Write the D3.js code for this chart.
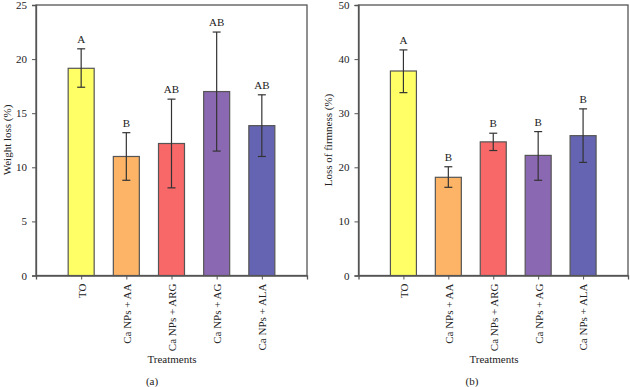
<!DOCTYPE html>
<html><head><meta charset="utf-8">
<script src="https://cdn.jsdelivr.net/npm/d3@7"></script>
<style>body{margin:0;background:#fff}svg{display:block}text{font-family:"Liberation Serif","Times New Roman",serif;fill:#222}</style>
</head><body><svg width="630" height="387"></svg>
<script>
const categories = ["TO","Ca NPs + AA","Ca NPs + ARG","Ca NPs + AG","Ca NPs + ALA"];
const colors = ["#ffff66","#fdb466","#f86868","#8b68b2","#6464b2"];
const weightLoss = [19.15, 11.0, 12.2, 17.0, 13.85];
const weightLossLow = [17.4, 8.8, 8.1, 11.5, 11.0];
const weightLossHigh = [20.95, 13.2, 16.3, 22.5, 16.7];
const weightLetters = ["A","B","AB","AB","AB"];
const firmness = [37.8, 18.15, 24.7, 22.2, 25.85];
const firmnessLow = [33.8, 16.3, 23.1, 17.6, 20.9];
const firmnessHigh = [41.7, 20.1, 26.3, 26.6, 30.8];
const firmnessLetters = ["A","B","B","B","B"];
const weightTicks = [0,5,10,15,20,25];
const firmTicks = [0,10,20,30,40,50];

const svg = d3.select("svg");
const axisColor = "#555";

function panel(o){
  const g = svg.append("g");
  const x = d3.scaleLinear().domain([0,6]).range([o.x0,o.x1]);
  const y = d3.scaleLinear().domain([0,o.max]).range([275.5,5]);
  const bw = 26;
  // frame
  g.append("rect").attr("x",o.x0).attr("y",y(o.max)).attr("width",o.x1-o.x0).attr("height",y(0)-y(o.max))
    .attr("fill","none").attr("stroke",axisColor).attr("stroke-width",1.3);
  // bars
  categories.forEach((c,i)=>{
    g.append("rect").attr("x",x(i+1)-bw/2).attr("y",y(o.vals[i])).attr("width",bw).attr("height",y(0)-y(o.vals[i]))
      .attr("fill",colors[i]).attr("stroke","#555").attr("stroke-width",1.2);
    const cx = x(i+1);
    g.append("line").attr("x1",cx).attr("x2",cx).attr("y1",y(o.lo[i])).attr("y2",y(o.hi[i])).attr("stroke","#333").attr("stroke-width",1.2);
    [o.lo[i],o.hi[i]].forEach(v=>g.append("line").attr("x1",cx-4).attr("x2",cx+4).attr("y1",y(v)).attr("y2",y(v)).attr("stroke","#333").attr("stroke-width",1.2));
    g.append("text").attr("x",cx).attr("y",y(o.hi[i])-6).attr("text-anchor","middle").attr("font-size",11).text(o.letters[i]);
  });
  // y axis
  const ya = d3.axisLeft(y).tickValues(o.ticks).tickSize(4).tickPadding(5);
  const yg = g.append("g").attr("transform",`translate(${o.x0},0)`).call(ya);
  yg.select(".domain").attr("stroke",axisColor).attr("stroke-width",1.3);
  yg.selectAll("line").attr("stroke",axisColor);
  yg.selectAll("text").attr("font-size",11).attr("font-family","Liberation Serif, serif").attr("fill","#222");
  // x axis
  const xa = d3.axisBottom(x).tickValues([1,2,3,4,5]).tickFormat(d=>categories[d-1]).tickSize(4).tickPadding(4);
  const xg = g.append("g").attr("transform",`translate(0,${y(0)})`).call(xa);
  xg.select(".domain").attr("stroke",axisColor).attr("stroke-width",1.3);
  xg.selectAll("line").attr("stroke",axisColor);
  xg.selectAll("text").attr("font-size",11).attr("font-family","Liberation Serif, serif").attr("fill","#222")
    .attr("transform","rotate(-90)").attr("text-anchor","end").attr("dy","0.35em").attr("x",-8).attr("y",0);
  g.append("text").attr("transform",`translate(${o.labelX},${o.labelY}) rotate(-90)`).attr("text-anchor","middle").attr("font-size",11).text(o.ylabel);
  g.append("text").attr("x",o.tX).attr("y",363).attr("text-anchor","middle").attr("font-size",11).text("Treatments");
  g.append("text").attr("x",o.pX).attr("y",385).attr("text-anchor","middle").attr("font-size",11).text(o.panel);
}
panel({x0:36,x1:307,max:25,vals:weightLoss,lo:weightLossLow,hi:weightLossHigh,letters:weightLetters,ticks:weightTicks,
  ylabel:"Weight loss (%)",labelX:11,labelY:140,tX:172,pX:152,panel:"(a)"});
panel({x0:358.5,x1:628,max:50,vals:firmness,lo:firmnessLow,hi:firmnessHigh,letters:firmnessLetters,ticks:firmTicks,
  ylabel:"Loss of firmness (%)",labelX:332,labelY:140,tX:494,pX:472,panel:"(b)"});
</script></body></html>
